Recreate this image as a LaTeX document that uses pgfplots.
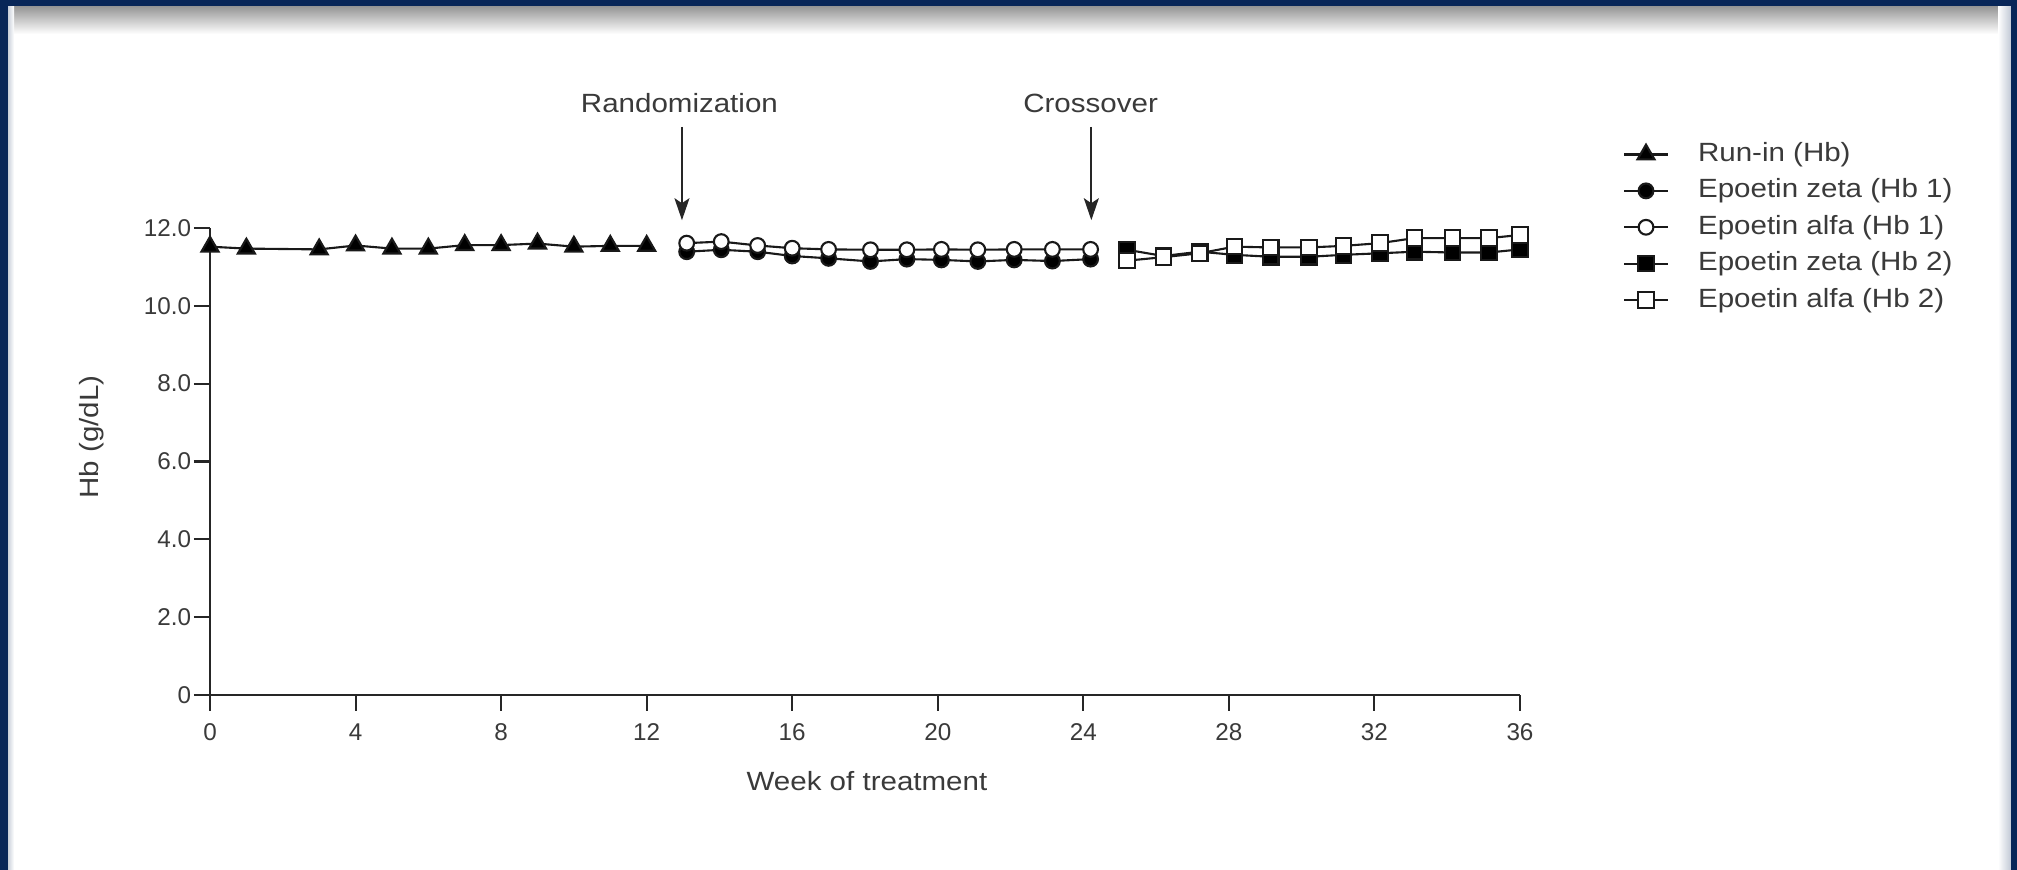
\documentclass[border=0pt]{standalone}
\usepackage{fontspec}
\setmainfont{Liberation Sans}[FakeStretch=1.12]
\newfontfamily\tickfont{Liberation Sans}
\usepackage{pgfplots}
\pgfplotsset{compat=1.18}
\usetikzlibrary{arrows.meta}
\definecolor{navy}{RGB}{8,38,88}
\definecolor{txt}{RGB}{58,58,58}
\begin{document}
\begin{tikzpicture}[x=1cm,y=1cm]
\useasboundingbox (0,0) rectangle (20.17,8.70);
\fill[white] (0,0) rectangle (20.17,8.70);
\shade[top color=black!42, bottom color=white] (0,8.36) rectangle (20.17,8.64);
\shade[left color=navy!25, right color=white] (0.07,0) rectangle (0.14,8.64);
\shade[left color=white, right color=navy!25] (19.98,0) rectangle (20.11,8.64);
\fill[navy] (0,0) rectangle (0.08,8.70);
\fill[navy] (0,8.64) rectangle (20.17,8.70);
\fill[navy] (20.11,0) rectangle (20.17,8.70);
\begin{axis}[
  at={(2.10cm,1.75cm)}, anchor=south west,
  scale only axis, width=13.10cm, height=4.67cm,
  xmin=0, xmax=36, ymin=0, ymax=12,
  clip=false,
  axis x line=bottom, axis y line=left,
  axis line style={-, line width=0.6pt, black!85},
  tick style={line width=0.6pt, black!85},
  major tick length=0.16cm,
  tick align=outside,
  xtick={0,4,...,36},
  ytick={0,2,...,12},
  xticklabels={0,4,8,12,16,20,24,28,32,36},
  yticklabels={0,2.0,4.0,6.0,8.0,10.0,12.0},
  ticklabel style={font=\tickfont\fontsize{6.9}{8}\selectfont, text=txt},
  yticklabel style={inner sep=0.6pt},
  xlabel={Week of treatment}, ylabel={Hb (g/dL)},
  label style={font=\fontsize{7.5}{9}\selectfont, text=txt},
  xlabel style={at={(axis description cs:0.5015,-0.184)}, anchor=center},
  ylabel style={at={(axis description cs:-0.0900,0.552)}, anchor=center},
  legend image code/.code={\draw[mark repeat=2,mark phase=2] plot coordinates {(0cm,0cm) (0.22cm,0cm) (0.44cm,0cm)};},
  legend cell align=left,
  legend style={at={(axis description cs:1.070,1.204)}, anchor=north west, draw=none, fill=none,
    font=\fontsize{7.5}{9}\selectfont, text=txt,
    nodes={inner sep=0pt, text height=6pt, text depth=2pt},
    row sep=2.35pt, column sep=0.29cm},
  every axis plot/.append style={black!90, line width=0.6pt},
]
\addplot[mark=triangle*, mark size=2.8pt, mark options={solid, fill=black}] coordinates {
(0,11.52) (1,11.47) (3,11.45) (4,11.55) (5,11.47) (6,11.47) (7,11.56) (8,11.56) (9,11.60) (10,11.52) (11,11.54) (12,11.54)};
\addlegendentry{Run-in (Hb)}
\addplot[mark=*, mark size=2.1pt, mark options={solid, fill=black}] coordinates {
(13.1,11.39) (14.05,11.44) (15.05,11.39) (16,11.28) (17,11.22) (18.15,11.14) (19.15,11.20) (20.1,11.18) (21.1,11.14) (22.1,11.18) (23.15,11.15) (24.2,11.20)};
\addlegendentry{Epoetin zeta (Hb 1)}
\addplot[mark=*, mark size=2.1pt, mark options={solid, fill=white}] coordinates {
(13.1,11.61) (14.05,11.65) (15.05,11.55) (16,11.48) (17,11.45) (18.15,11.44) (19.15,11.44) (20.1,11.45) (21.1,11.44) (22.1,11.45) (23.15,11.45) (24.2,11.45)};
\addlegendentry{Epoetin alfa (Hb 1)}
\addplot[mark=square*, mark size=2.2pt, mark options={solid, fill=black}] coordinates {
(25.2,11.44) (26.2,11.28) (27.2,11.39) (28.15,11.31) (29.15,11.26) (30.2,11.26) (31.15,11.31) (32.15,11.35) (33.1,11.39) (34.15,11.37) (35.15,11.37) (36,11.45)};
\addlegendentry{Epoetin zeta (Hb 2)}
\addplot[mark=square*, mark size=2.2pt, mark options={solid, fill=white}] coordinates {
(25.2,11.16) (26.2,11.25) (27.2,11.35) (28.15,11.52) (29.15,11.50) (30.2,11.50) (31.15,11.54) (32.15,11.61) (33.1,11.74) (34.15,11.74) (35.15,11.74) (36,11.82)};
\addlegendentry{Epoetin alfa (Hb 2)}
\draw[line width=0.5pt, black!85, -{Stealth[length=0.22cm, width=0.15cm, inset=0.05cm]}] (axis cs:12.97,14.6) -- (axis cs:12.97,12.2);
\draw[line width=0.5pt, black!85, -{Stealth[length=0.22cm, width=0.15cm, inset=0.05cm]}] (axis cs:24.22,14.6) -- (axis cs:24.22,12.2);
\node[font=\fontsize{7.5}{9}\selectfont, text=txt] at (axis cs:12.9,15.2) {Randomization};
\node[font=\fontsize{7.5}{9}\selectfont, text=txt] at (axis cs:24.2,15.2) {Crossover};
\end{axis}
\end{tikzpicture}
\end{document}
